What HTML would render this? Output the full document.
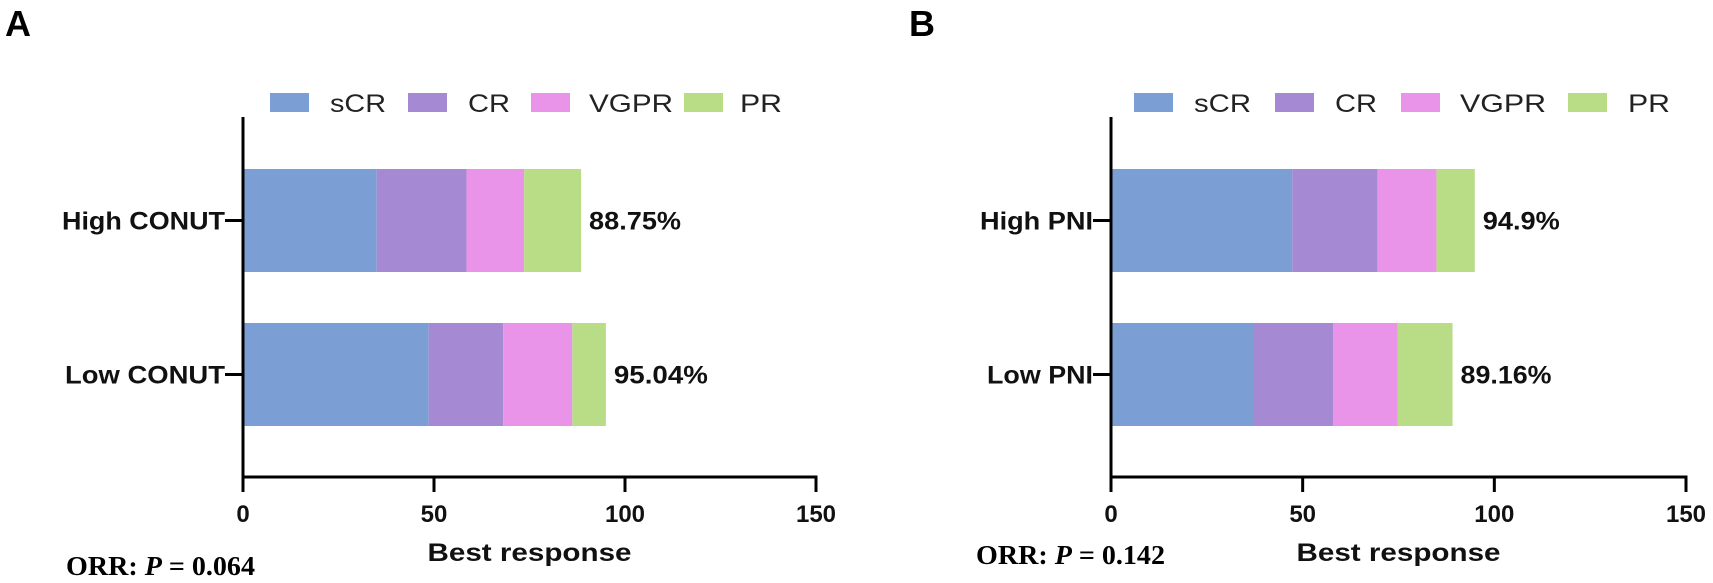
<!DOCTYPE html>
<html><head><meta charset="utf-8"><style>
body{margin:0;background:#fff;}
svg{display:block;font-family:"Liberation Sans",Arial,sans-serif;}
</style></head><body>
<svg id="c" width="1713" height="583" viewBox="0 0 1713 583"></svg>
<script>
const segNames=["sCR","CR","VGPR","PR"];
const colors=["#7b9fd4","#a689d3","#e994e8","#b9dd87"];
const catsA=["High CONUT","Low CONUT"];
const highA=[35.0,23.5,15.1,14.9];
const lowA=[48.6,19.5,18.1,8.8];
const totalsA=["88.75%","95.04%"];
const catsB=["High PNI","Low PNI"];
const highB=[47.3,22.2,15.4,10.0];
const lowB=[37.3,20.7,16.8,14.3];
const totalsB=["94.9%","89.16%"];
const ticks=[0,50,100,150];
const NS="http://www.w3.org/2000/svg";
const svg=document.getElementById('c');
function mk(t,a,txt){const e=document.createElementNS(NS,t);for(const k in a)e.setAttribute(k,a[k]);if(txt!=null)e.textContent=txt;svg.appendChild(e);return e;}
function panel(p){
  const x=v=>p.x0+v*(p.x1-p.x0)/150;
  const rows=[p.high,p.low], ys=[169,323], h=103;
  rows.forEach((vals,i)=>{
    let acc=0;
    vals.forEach((v,j)=>{
      const r=mk('rect',{x:x(acc),y:ys[i],width:x(acc+v)-x(acc),height:h,fill:colors[j]});
      
      
      acc+=v;
    });
    const t=mk('text',{x:x(acc)+8,y:ys[i]+h/2+9,'font-size':25,'font-weight':'bold',fill:'#111',textLength:p.totW[i],lengthAdjust:'spacingAndGlyphs'},p.totals[i]);
    
    
    const c=mk('text',{x:p.x0-18,y:ys[i]+h/2+9,'font-size':25,'font-weight':'bold','text-anchor':'end',fill:'#111',textLength:p.catW[i],lengthAdjust:'spacingAndGlyphs'},p.cats[i]);
    
    
    mk('line',{x1:p.x0-18,x2:p.x0,y1:ys[i]+h/2,y2:ys[i]+h/2,stroke:'#000','stroke-width':3});
  });
  const ya=mk('line',{x1:p.x0,x2:p.x0,y1:117,y2:478,stroke:'#000','stroke-width':3});
  
  const xa=mk('line',{x1:p.x0-1.5,x2:p.x1+1.5,y1:477,y2:477,stroke:'#000','stroke-width':3});
  
  ticks.forEach(v=>{
    mk('line',{x1:x(v),x2:x(v),y1:477,y2:492,stroke:'#000','stroke-width':3});
    const t=mk('text',{x:x(v),y:522,'font-size':24,'font-weight':'bold','text-anchor':'middle',fill:'#111'},v);
    
  });
  const at=mk('text',{x:(p.x0+p.x1)/2,y:561,'font-size':25,'font-weight':'bold','text-anchor':'middle',fill:'#111',textLength:204,lengthAdjust:'spacingAndGlyphs'},'Best response');
  
  p.leg.forEach((lx,j)=>{
    const r=mk('rect',{x:lx,y:93,width:39,height:19,fill:colors[j]});
    
    const t=mk('text',{x:p.legT[j],y:112,'font-size':25,fill:'#222',textLength:p.legW[j],lengthAdjust:'spacingAndGlyphs'},segNames[j]);
    
  });
  const L=mk('text',{x:p.lx,y:36,'font-size':36,'font-weight':'bold',fill:'#000'},p.letter);
  
  const o=mk('text',{x:p.ox,y:p.oy,'font-size':27,'font-weight':'bold','font-family':'"Liberation Serif",serif',fill:'#000',textLength:189,lengthAdjust:'spacingAndGlyphs'});
  
  o.innerHTML='ORR: <tspan font-style="italic">P</tspan> = '+p.pval;
}
panel({id:'a',letter:'A',lx:5,x0:243,x1:816,high:highA,low:lowA,cats:catsA,totals:totalsA,catW:[163,160],totW:[92,94],
  leg:[270,408,531,684],legT:[330,468,589,740],legW:[56,42,84,42],ox:66,oy:575,pval:'0.064'});
panel({id:'b',letter:'B',lx:909,x0:1111,x1:1686,high:highB,low:lowB,cats:catsB,totals:totalsB,catW:[113,106],totW:[77,91],
  leg:[1134,1275,1401,1568],legT:[1194,1335,1460,1628],legW:[57,42,86,42],ox:976,oy:564,pval:'0.142'});
</script>
</body></html>
